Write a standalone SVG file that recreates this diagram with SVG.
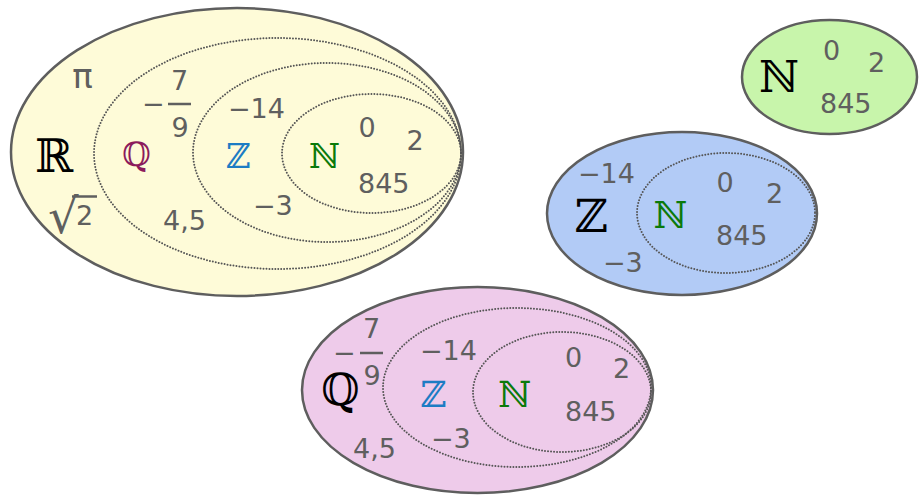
<svg xmlns="http://www.w3.org/2000/svg" width="919" height="495" viewBox="0 0 919 495">
<style>
.outer{stroke:#5e5e5e;stroke-width:2.5}
.dot{fill:none;stroke:#555;stroke-width:2;stroke-dasharray:0 3;stroke-linecap:round}
.t{font-family:"DejaVu Sans",sans-serif;font-size:27px;fill:#5f5f5f}
.bb{font-family:"DejaVu Serif",serif;text-anchor:middle}
.bar{stroke:#5f5f5f;stroke-width:2.5}
</style>
<rect width="919" height="495" fill="#ffffff"/>
<g id="R-set">
<ellipse class="outer" cx="237" cy="152" rx="226" ry="144" fill="#fefbd8"/>
<ellipse class="dot" cx="277.5" cy="153.5" rx="183.5" ry="115.5"/>
<ellipse class="dot" cx="327" cy="152.5" rx="134" ry="89.5"/>
<ellipse class="dot" cx="371.5" cy="153.5" rx="89.5" ry="59.5"/>
<text class="bb" x="54" y="172" font-size="46" fill="#000">ℝ</text>
<text class="bb" x="136.5" y="166" font-size="33" fill="#8c1b5c">ℚ</text>
<text class="bb" x="238.5" y="168" font-size="34" fill="#1c7cc4">ℤ</text>
<text class="bb" x="324.5" y="168" font-size="34" fill="#0b7a0b">ℕ</text>
<text class="t" x="82.5" y="88" style="font-size:34px" text-anchor="middle">π</text>
<text class="t"><tspan x="48" y="233" style="font-size:48px">√</tspan><tspan x="76" y="225">2</tspan></text>
<line class="bar" x1="72" y1="196.5" x2="97" y2="196.5" stroke-width="2.2"/>
<text class="t"><tspan x="142" y="113">−</tspan><tspan x="171" y="90">7</tspan><tspan x="171.5" y="137">9</tspan></text>
<line class="bar" x1="168" y1="104" x2="191" y2="104"/>
<text class="t" x="228" y="118">−14</text>
<text class="t" x="358.5" y="137">0</text>
<text class="t" x="406.5" y="150">2</text>
<text class="t" x="358" y="193">845</text>
<text class="t" x="253" y="215">−3</text>
<text class="t" x="163" y="230">4,5</text>
</g>
<g id="Z-set">
<ellipse class="outer" cx="682" cy="213.5" rx="135" ry="81.5" fill="#b2cbf6"/>
<ellipse class="dot" cx="726" cy="213" rx="89" ry="60"/>
<text class="bb" x="591" y="232" font-size="46" fill="#000">ℤ</text>
<text class="bb" x="670.5" y="228" font-size="37" fill="#0b7a0b">ℕ</text>
<text class="t" x="578" y="183">−14</text>
<text class="t" x="716.5" y="192">0</text>
<text class="t" x="766" y="203">2</text>
<text class="t" x="716" y="245">845</text>
<text class="t" x="603" y="272">−3</text>
</g>
<g id="N-set">
<ellipse class="outer" cx="829.5" cy="77" rx="87.5" ry="57" fill="#c8f5ab"/>
<text class="bb" x="779" y="92" font-size="44" fill="#000">ℕ</text>
<text class="t" x="823" y="60">0</text>
<text class="t" x="868" y="72">2</text>
<text class="t" x="820" y="113">845</text>
</g>
<g id="Q-set">
<ellipse class="outer" cx="477.5" cy="390" rx="175.5" ry="103" fill="#eecbea"/>
<ellipse class="dot" cx="517" cy="387.5" rx="134" ry="79.5"/>
<ellipse class="dot" cx="562" cy="392" rx="89" ry="60"/>
<text class="bb" x="340.5" y="405" font-size="44" fill="#000">ℚ</text>
<text class="bb" x="433.5" y="407" font-size="36" fill="#1c7cc4">ℤ</text>
<text class="bb" x="514.5" y="407" font-size="36" fill="#0b7a0b">ℕ</text>
<text class="t"><tspan x="333" y="362">−</tspan><tspan x="363" y="338">7</tspan><tspan x="363.5" y="385">9</tspan></text>
<line class="bar" x1="360" y1="353" x2="383" y2="353"/>
<text class="t" x="420" y="360">−14</text>
<text class="t" x="565" y="367">0</text>
<text class="t" x="613" y="378">2</text>
<text class="t" x="565" y="421">845</text>
<text class="t" x="431" y="448">−3</text>
<text class="t" x="353" y="458">4,5</text>
</g>
<g id="connectors"/>
</svg>
